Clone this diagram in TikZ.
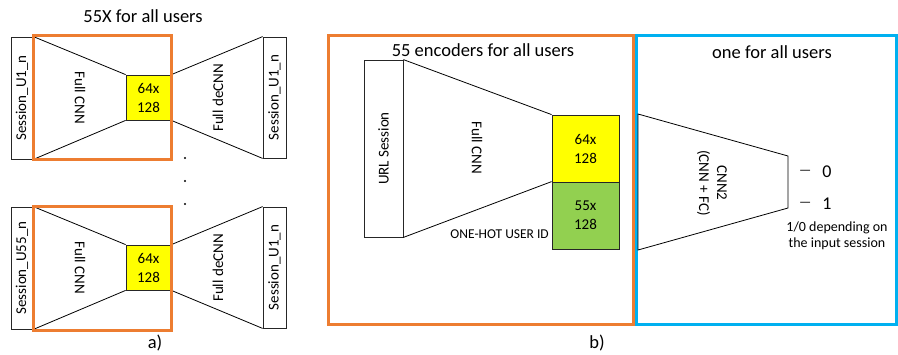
\documentclass[tikz,border=0pt]{standalone}
\usepackage{fontspec}
\setmainfont{Carlito}
\definecolor{orangeC}{HTML}{ED7D31}
\definecolor{blueC}{HTML}{00B0F0}
\definecolor{yellowC}{HTML}{FFFF00}
\definecolor{greenC}{HTML}{92D050}
\newcommand{\outdash}{\raisebox{3pt}{\fontsize{13.5}{14}\selectfont —}}
\begin{document}
\begin{tikzpicture}[x=1pt,y=-1pt,
  thinline/.style={draw=black, line width=0.8pt},
  plainbox/.style={draw=black!85, line width=0.8pt, inner sep=0pt, fill=white},
  ybox/.style={plainbox, fill=yellowC, minimum width=45, minimum height=45, align=center, font=\fontsize{15}{19}\selectfont},
  frameO/.style={draw=orangeC, line width=3pt, inner sep=0pt},
  frameB/.style={draw=blueC, line width=3pt, inner sep=0pt},
  txt/.style={inner sep=0pt, font=\fontsize{15}{18}\selectfont},
  title/.style={inner sep=0pt, font=\fontsize{18.5}{22}\selectfont},
  outlab/.style={inner sep=0pt, font=\fontsize{18}{22}\selectfont, anchor=base west},
]
\useasboundingbox (0,0) rectangle (898,354);

% ---------- a) top ----------
\node[title] (ta) at (143,16) {55X for all users};
\node[plainbox, minimum width=22, minimum height=122] (s1) at (22,98) {};
\node[txt, rotate=90] (s1t) at (s1) {Session\_U1\_n};
\node[ybox] (y1) at (148.5,97.5) {64x\\128};
\node[plainbox, minimum width=23, minimum height=121] (r1) at (274.5,97.5) {};
\node[txt, rotate=90] (r1t) at (r1) {Session\_U1\_n};
\draw[thinline] (s1.north east) -- (y1.north west);
\draw[thinline] (s1.south east) -- (y1.south west);
\draw[thinline] (y1.north east) -- (r1.north west);
\draw[thinline] (y1.south east) -- (r1.south west);
\node[txt, rotate=-90] (c1) at (80,98) {Full CNN};
\node[txt, rotate=90] (d1) at (218,98) {Full deCNN};
\node[frameO, minimum width=138, minimum height=124] (o1) at (102,97) {};

% dots
\fill (185,158) circle (1.1);
\fill (185,181) circle (1.1);
\fill (185,204) circle (1.1);

% ---------- a) bottom ----------
\node[plainbox, minimum width=22, minimum height=122] (s2) at (22,268) {};
\node[txt, rotate=90] (s2t) at (s2) {Session\_U55\_n};
\node[ybox] (y2) at (148.5,267.5) {64x\\128};
\node[plainbox, minimum width=23, minimum height=121] (r2) at (274.5,267.5) {};
\node[txt, rotate=90] (r2t) at (r2) {Session\_U1\_n};
\draw[thinline] (s2.north east) -- (y2.north west);
\draw[thinline] (s2.south east) -- (y2.south west);
\draw[thinline] (y2.north east) -- (r2.north west);
\draw[thinline] (y2.south east) -- (r2.south west);
\node[txt, rotate=-90] (c2) at (80,268) {Full CNN};
\node[txt, rotate=90] (d2) at (218,268) {Full deCNN};
\node[frameO, minimum width=138, minimum height=124] (o2) at (102,268) {};
\node[title] (la) at (155,343) {a)};

% ---------- b) ----------
\node[frameO, minimum width=305, minimum height=289] (ob) at (480.5,179.5) {};
\node[frameB, minimum width=260, minimum height=289] (bb) at (766,179.5) {};
\node[title] (tb1) at (483,50) {55 encoders for all users};
\node[title] (tb2) at (772,52) {one for all users};

\node[plainbox, minimum width=39, minimum height=177] (u) at (383.5,148.5) {};
\node[txt, rotate=90] (ut) at (u) {URL Session};
\node[ybox, minimum width=67, minimum height=67] (yb) at (585.5,148.5) {64x\\128};
\node[plainbox, fill=greenC, minimum width=67, minimum height=67, align=center, font=\fontsize{15}{19}\selectfont] (gb) at (585.5,215.5) {55x\\128};
\draw[thinline] (u.north east) -- (yb.north west);
\draw[thinline] (u.south east) -- (gb.north west);
\node[txt, rotate=-90] (cb) at (477,148) {Full CNN};
\node[inner sep=0pt, font=\fontsize{13.5}{16}\selectfont, anchor=east] (oh) at (549,234) {ONE-HOT USER ID};

% CNN2 trapezoid
\coordinate (k1) at (638,114);
\coordinate (k2) at (788,156);
\coordinate (k3) at (788,208);
\coordinate (k4) at (638,250);
\draw[thinline] (k1) -- (k2) -- (k3) -- (k4) -- cycle;
\node[txt, rotate=-90, align=center] (cn) at (712,183) {CNN2\\(CNN + FC)};
\node[outlab] (o0) at (799,177) {\outdash\hspace{11pt}0};
\node[outlab] (o1b) at (799,209.5) {\outdash\hspace{11pt}1};
\node[inner sep=0pt, align=center, font=\fontsize{14}{16.5}\selectfont] (dep) at (837,236) {1/0 depending on\\the input session};
\node[title] (lb) at (597,343) {b)};
\end{tikzpicture}
\end{document}
